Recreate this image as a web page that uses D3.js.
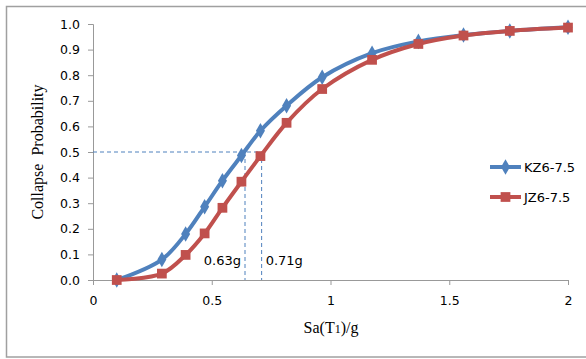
<!DOCTYPE html>
<html>
<head>
<meta charset="utf-8">
<script src="https://cdn.jsdelivr.net/npm/d3@7"></script>
<style>
  body { margin: 0; background: #fff; }
  svg { display: block; }
</style>
</head>
<body>
<svg id="chart"></svg>
<script>

var width = 586
var height = 359

// Sa(T1)/g values shared by both curves
var sa = [0.1, 0.29, 0.39, 0.47, 0.545, 0.625, 0.705, 0.815, 0.965, 1.175, 1.37, 1.56, 1.755, 2.0]
var kz = [0, 0.08, 0.18, 0.286, 0.388, 0.486, 0.583, 0.681, 0.792, 0.886, 0.932, 0.957, 0.973, 0.987]
var jz = [0, 0.025, 0.098, 0.182, 0.282, 0.384, 0.484, 0.614, 0.746, 0.86, 0.922, 0.955, 0.973, 0.986]
var seriesNames = ["KZ6-7.5", "JZ6-7.5"]
var xTicks = [0, 0.5, 1, 1.5, 2]
var yTicks = [0, 0.1, 0.2, 0.3, 0.4, 0.5, 0.6, 0.7, 0.8, 0.9, 1.0]
var medians = [0.64, 0.71]
var medianLabels = ["0.63g", "0.71g"]

var blue = "#4f81bd"
var red = "#c0504d"

var svg = d3.select("#chart")
  .attr("width", width)
  .attr("height", height)

// outer frame
svg.append("rect")
  .attr("x", 6.5).attr("y", 6.5)
  .attr("width", 590).attr("height", 350.5)
  .attr("fill", "none")
  .attr("stroke", "#a0a0a0")
  .attr("stroke-width", 1.5)

var x = d3.scaleLinear().domain([0, 2]).range([93, 568])
var y = d3.scaleLinear().domain([0, 1]).range([280, 24])

var axisColor = "#999"
var tickFont = "'DejaVu Sans', Verdana, sans-serif"

// y axis
var yAxis = svg.append("g")
  .attr("transform", "translate(93,0)")
  .call(d3.axisLeft(y).tickValues(yTicks).tickFormat(d3.format(".1f")).tickSize(5).tickPadding(8))
yAxis.select(".domain").attr("stroke", axisColor)
yAxis.selectAll(".tick line").attr("stroke", axisColor)
yAxis.selectAll("text")
  .attr("fill", "#000")
  .style("font-family", tickFont)
  .style("font-size", "12.5px")

// x axis
var xAxis = svg.append("g")
  .attr("transform", "translate(0,280)")
  .call(d3.axisBottom(x).tickValues(xTicks).tickFormat(d3.format("")).tickSize(5).tickPadding(11))
xAxis.select(".domain").attr("stroke", axisColor)
xAxis.selectAll(".tick line").attr("stroke", axisColor)
xAxis.selectAll("text")
  .attr("fill", "#000")
  .style("font-family", tickFont)
  .style("font-size", "12.5px")

// axis titles
var xt = svg.append("text")
  .attr("x", 331).attr("y", 333)
  .attr("text-anchor", "middle")
  .style("font-family", "'Liberation Serif', 'Times New Roman', serif")
  .style("font-size", "16px")
xt.append("tspan").text("Sa(T")
xt.append("tspan").style("font-size", "12px").text("1")
xt.append("tspan").text(")/g")

svg.append("text")
  .attr("transform", "translate(43,152) rotate(-90)")
  .attr("text-anchor", "middle")
  .style("font-family", "'Liberation Serif', 'Times New Roman', serif")
  .style("font-size", "16px")
  .style("white-space", "pre")
  .text("Collapse  Probability")

// dashed guides at 50% collapse
var guides = svg.append("g")
  .attr("stroke", blue)
  .attr("stroke-width", 1)
  .attr("stroke-dasharray", "4,3")
  .attr("fill", "none")
guides.append("line")
  .attr("x1", x(0)).attr("x2", x(medians[1]))
  .attr("y1", y(0.5)).attr("y2", y(0.5))
medians.forEach(function(m) {
  guides.append("line")
    .attr("x1", x(m)).attr("x2", x(m))
    .attr("y1", y(0.5)).attr("y2", y(0))
})

svg.append("text")
  .attr("x", x(medians[0]) - 4).attr("y", 265)
  .attr("text-anchor", "end")
  .style("font-family", tickFont)
  .style("font-size", "13px")
  .text(medianLabels[0])
svg.append("text")
  .attr("x", x(medians[1]) + 4).attr("y", 265)
  .style("font-family", tickFont)
  .style("font-size", "13px")
  .text(medianLabels[1])

// curves
var line = d3.line()
  .x(function(d) { return x(d[0]) })
  .y(function(d) { return y(d[1]) })
  .curve(d3.curveCatmullRom.alpha(0.5))

var kzData = sa.map(function(s, i) { return [s, kz[i]] })
var jzData = sa.map(function(s, i) { return [s, jz[i]] })

var diamond = d3.symbol().type(d3.symbolDiamond).size(70)
var square = d3.symbol().type(d3.symbolSquare).size(95)

function drawSeries(data, color, sym) {
  svg.append("path")
    .datum(data)
    .attr("d", line)
    .attr("fill", "none")
    .attr("stroke", color)
    .attr("stroke-width", 4)
    .attr("stroke-linejoin", "round")
  svg.append("g").selectAll("path")
    .data(data)
    .enter().append("path")
    .attr("d", sym)
    .attr("transform", function(d) { return "translate(" + x(d[0]) + "," + y(d[1]) + ")" })
    .attr("fill", color)
}

drawSeries(kzData, blue, diamond)
drawSeries(jzData, red, square)

// legend
var legend = svg.append("g")
var items = [
  { name: seriesNames[0], color: blue, sym: diamond, y: 167 },
  { name: seriesNames[1], color: red, sym: square, y: 197 }
]
items.forEach(function(it) {
  legend.append("line")
    .attr("x1", 490).attr("x2", 521)
    .attr("y1", it.y).attr("y2", it.y)
    .attr("stroke", it.color).attr("stroke-width", 4)
  legend.append("path")
    .attr("d", it.sym)
    .attr("transform", "translate(505.5," + it.y + ")")
    .attr("fill", it.color)
  legend.append("text")
    .attr("x", 524).attr("y", it.y + 5)
    .style("font-family", tickFont)
    .style("font-size", "13px")
    .text(it.name)
})

</script>
</body>
</html>
